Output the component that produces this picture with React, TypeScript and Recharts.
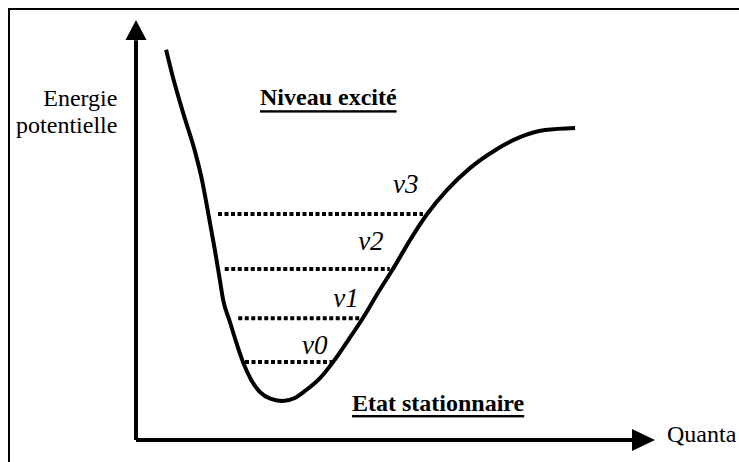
import React from 'react';
import { ComposedChart, Line, XAxis, YAxis, ReferenceLine, ReferenceDot } from 'recharts';

// Potential energy curve (quanta on x, energy on y, arbitrary units 0..10)
const quantaValues = [0.58, 0.7, 0.92, 1.13, 1.27, 1.37, 1.45, 1.52, 1.6, 1.68, 1.81, 1.93, 2.06, 2.22, 2.39, 2.6, 2.83, 3.06, 3.28, 3.55, 3.8, 4.09, 4.37, 4.66, 4.95, 5.28, 5.61, 5.99, 6.44, 6.92, 7.4, 7.88, 8.46];
const energyValues = [9.29, 8.69, 7.74, 6.9, 6.2, 5.55, 5.0, 4.52, 3.93, 3.33, 2.81, 2.33, 1.86, 1.43, 1.14, 0.98, 0.93, 1.0, 1.19, 1.48, 1.86, 2.38, 2.9, 3.5, 4.07, 4.76, 5.38, 5.95, 6.48, 6.9, 7.21, 7.38, 7.43];

// Vibrational levels
const levelNames = ['v0', 'v1', 'v2', 'v3'];
const levelEnergy = [1.86, 2.9, 4.07, 5.38];
const levelStart = [2.1, 1.97, 1.71, 1.58];
const levelEnd = [3.78, 4.35, 4.89, 5.53];
const labelQuanta = [3.2, 3.8, 4.28, 4.95];
const labelEnergy = [2.05, 3.17, 4.52, 5.88];

// Axis extents
const axisMax = 10;
const arrowBaseX = 9.56;
const arrowBaseY = 9.52;

const curveData = quantaValues.map((x, i) => ({ x, y: energyValues[i] }));

const serif = "'Liberation Serif'";

const upArrow = (p: any) => (
  <polygon points={`${p.cx},${p.cy} ${p.cx - 10.5},${p.cy + 20} ${p.cx + 10.5},${p.cy + 20}`} fill="#000" />
);
const rightArrow = (p: any) => (
  <polygon points={`${p.cx},${p.cy} ${p.cx - 23},${p.cy - 11} ${p.cx - 23},${p.cy + 11}`} fill="#000" />
);

const textBase: React.CSSProperties = {
  position: 'absolute',
  fontFamily: serif,
  fontSize: 20,
  whiteSpace: 'nowrap',
  color: '#000',
};

export default function App() {
  return (
    <div style={{ position: 'absolute', left: 0, top: 0, width: 739, height: 462, background: '#fff', overflow: 'hidden' }}>
      <div style={{ position: 'absolute', left: 8, top: 8, width: 731, height: 454, borderTop: '2px solid #000', borderLeft: '2px solid #000', boxSizing: 'border-box' }} />
      <div style={{ position: 'absolute', left: 0, top: 0 }}>
        <ComposedChart width={739} height={462} data={curveData} margin={{ top: 20, right: 84, bottom: 22, left: 136 }}>
          <XAxis type="number" dataKey="x" domain={[0, axisMax]} hide />
          <YAxis type="number" domain={[0, axisMax]} hide />
          <ReferenceLine segment={[{ x: 0, y: 0 }, { x: 0, y: arrowBaseY }]} stroke="#000" strokeWidth={4} ifOverflow="visible" />
          <ReferenceLine segment={[{ x: 0, y: 0 }, { x: arrowBaseX, y: 0 }]} stroke="#000" strokeWidth={4} ifOverflow="visible" />
          <ReferenceDot x={0} y={axisMax} r={0} shape={upArrow} ifOverflow="visible" />
          <ReferenceDot x={axisMax} y={0} r={0} shape={rightArrow} ifOverflow="visible" />
          {levelNames.map((n, i) => (
            <ReferenceLine
              key={n}
              segment={[{ x: levelStart[i], y: levelEnergy[i] }, { x: levelEnd[i], y: levelEnergy[i] }]}
              stroke="#000"
              strokeWidth={4}
              strokeDasharray="4 2.5"
            />
          ))}
          {levelNames.map((n, i) => (
            <ReferenceDot
              key={'l' + n}
              x={labelQuanta[i]}
              y={labelEnergy[i]}
              r={0}
              shape={(p: any) => (
                <text
                  x={0}
                  y={0}
                  transform={`translate(${p.cx},${p.cy}) scale(1.35)`}
                  style={{ fontFamily: serif, fontStyle: 'italic', fontSize: 20 }}
                  fill="#000"
                >
                  {n}
                </text>
              )}
            />
          ))}
          <Line type="monotone" dataKey="y" stroke="#000" strokeWidth={4} dot={false} isAnimationActive={false} />
        </ComposedChart>
      </div>
      <div style={{ ...textBase, right: 739 - 117, top: 84, lineHeight: '23.33px', textAlign: 'right', transform: 'scale(1.2)', transformOrigin: 'right top' }}>
        Energie<br />potentielle
      </div>
      <div style={{ ...textBase, left: 260, top: 85, lineHeight: '20px', fontWeight: 'bold', textDecoration: 'underline', textUnderlineOffset: '4.2px', textDecorationThickness: '1.7px', transform: 'scale(1.2)', transformOrigin: 'left top' }}>
        Niveau excité
      </div>
      <div style={{ ...textBase, left: 352, top: 391, lineHeight: '20px', fontWeight: 'bold', textDecoration: 'underline', textUnderlineOffset: '3.4px', textDecorationThickness: '1.7px', transform: 'scale(1.2)', transformOrigin: 'left top' }}>
        Etat stationnaire
      </div>
      <div style={{ ...textBase, left: 667, top: 422, lineHeight: '20px', transform: 'scale(1.2)', transformOrigin: 'left top' }}>
        Quanta
      </div>
    </div>
  );
}
